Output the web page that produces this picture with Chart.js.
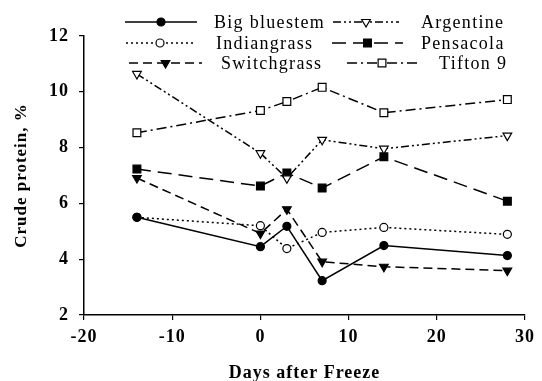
<!DOCTYPE html>
<html>
<head>
<meta charset="utf-8">
<script src="https://cdn.jsdelivr.net/npm/chart.js@4/dist/chart.umd.min.js"></script>
<style>
  html, body { margin: 0; padding: 0; background: #fff; }
  #wrap { width: 542px; height: 381px; position: relative; }
</style>
</head>
<body>
<div id="wrap"><canvas id="cp"></canvas></div>
<script>
// Días después de la helada y proteína cruda (%) por especie
const days = [-14, 0, 3, 7, 14, 28];
const bigBluestem = [5.5, 4.45, 5.18, 3.23, 4.49, 4.13];
const indiangrass = [5.5, 5.2, 4.38, 4.96, 5.14, 4.89];
const switchgrass = [6.91, 4.92, 5.79, 3.91, 3.73, 3.59];
const argentine = [10.64, 7.8, 6.9, 8.28, 7.96, 8.43];
const pensacola = [7.23, 6.62, 7.09, 6.55, 7.67, 6.08];
const tifton9 = [8.53, 9.33, 9.65, 10.16, 9.25, 9.72];

const xTicks = [-20, -10, 0, 10, 20, 30];
const yTicks = [2, 4, 6, 8, 10, 12];

const SERIF = '"Liberation Serif", "Times New Roman", serif';

const toPts = (vals) => days.map((d, i) => ({ x: d, y: vals[i] }));

function serie(label, vals, dash, pointStyle, filled, rot) {
  return {
    label,
    data: toPts(vals),
    borderColor: '#000',
    borderWidth: 1.5,
    borderDash: dash,
    tension: 0,
    fill: false,
    showLine: true,
    pointStyle,
    pointRotation: rot || 0,
    pointRadius: pointStyle === 'rect' ? 5.5 : (pointStyle === 'triangle' ? 5 : 4),
    pointBorderWidth: 1.2,
    pointBorderColor: '#000',
    pointBackgroundColor: filled ? '#000' : '#fff',
  };
}

const datasets = [
  serie('Big bluestem', bigBluestem, [], 'circle', true),
  serie('Indiangrass', indiangrass, [2, 3], 'circle', false),
  serie('Switchgrass', switchgrass, [9, 5], 'triangle', true, 180),
  serie('Argentine', argentine, [8, 3, 2, 3, 2, 3], 'triangle', false, 180),
  serie('Pensacola', pensacola, [14, 7], 'rect', true),
  serie('Tifton 9', tifton9, [10, 4, 2, 4], 'rect', false),
];

// Espaciado de letras como en la figura original
const spacingPlugin = {
  id: 'spacing',
  beforeUpdate: (chart) => { chart.ctx.letterSpacing = '1px'; },
  beforeDraw: (chart) => { chart.ctx.letterSpacing = '1px'; },
};

// Leyenda en dos columnas dentro del área superior
const legendPlugin = {
  id: 'twoColLegend',
  afterDraw: (chart) => {
    const ctx = chart.ctx;
    // [inicio muestra, fin muestra, texto x, y]
    const slots = [
      [125, 197, 214, 22], [126, 194, 216, 43], [129, 202, 221, 63],
      [333, 399, 421, 22], [332, 403, 421, 43], [347, 417, 439, 63],
    ];
    chart.data.datasets.forEach((ds, i) => {
      const [x0, x1, tx, y] = slots[i];
      ctx.save();
      ctx.strokeStyle = '#000';
      ctx.lineWidth = ds.borderWidth;
      ctx.setLineDash(ds.borderDash);
      ctx.beginPath();
      ctx.moveTo(x0, y);
      ctx.lineTo(x1, y);
      ctx.stroke();
      ctx.setLineDash([]);
      ctx.fillStyle = ds.pointBackgroundColor;
      ctx.strokeStyle = '#000';
      ctx.lineWidth = ds.pointBorderWidth;
      Chart.helpers.drawPoint(ctx, {
        pointStyle: ds.pointStyle,
        rotation: ds.pointRotation,
        radius: ds.pointRadius,
        borderWidth: ds.pointBorderWidth,
      }, (x0 + x1) / 2, y);
      ctx.letterSpacing = '1.3px';
      ctx.fillStyle = '#000';
      ctx.font = '18px ' + SERIF;
      ctx.textAlign = 'left';
      ctx.textBaseline = 'middle';
      ctx.fillText(ds.label, tx, y + 1);
      ctx.restore();
    });
  },
};

new Chart(document.getElementById('cp'), {
  type: 'scatter',
  data: { datasets },
  options: {
    responsive: true,
    maintainAspectRatio: false,
    animation: false,
    layout: { padding: { left: 0, right: 14, top: 36, bottom: 0 } },
    plugins: {
      legend: { display: false },
      tooltip: { enabled: false },
    },
    scales: {
      x: {
        type: 'linear',
        min: -20,
        max: 30,
        afterBuildTicks: (s) => { s.ticks = xTicks.map(v => ({ value: v })); },
        afterFit: (s) => { s.height = 66; },
        grid: { drawOnChartArea: false, drawTicks: true, tickLength: 5, color: '#000', lineWidth: 1.2 },
        border: { color: '#000', width: 1.5 },
        ticks: { color: '#000', padding: 7, maxRotation: 0, font: { family: SERIF, size: 18, weight: 'bold' } },
        title: {
          display: true,
          text: 'Days after Freeze',
          color: '#000',
          padding: { top: 0, bottom: -3 },
          font: { family: SERIF, size: 18, weight: 'bold' },
        },
      },
      y: {
        min: 2,
        max: 12,
        afterBuildTicks: (s) => { s.ticks = yTicks.map(v => ({ value: v })); },
        afterFit: (s) => { s.width = 84; },
        grid: { drawOnChartArea: false, drawTicks: true, tickLength: 5, color: '#000', lineWidth: 1.2 },
        border: { color: '#000', width: 1.5 },
        ticks: { color: '#000', padding: 10, font: { family: SERIF, size: 18, weight: 'bold' } },
        title: {
          display: true,
          text: 'Crude protein, %',
          color: '#000',
          padding: { top: 11, bottom: 0 },
          font: { family: SERIF, size: 17, weight: 'bold' },
        },
      },
    },
  },
  plugins: [spacingPlugin, legendPlugin],
});
</script>
</body>
</html>
